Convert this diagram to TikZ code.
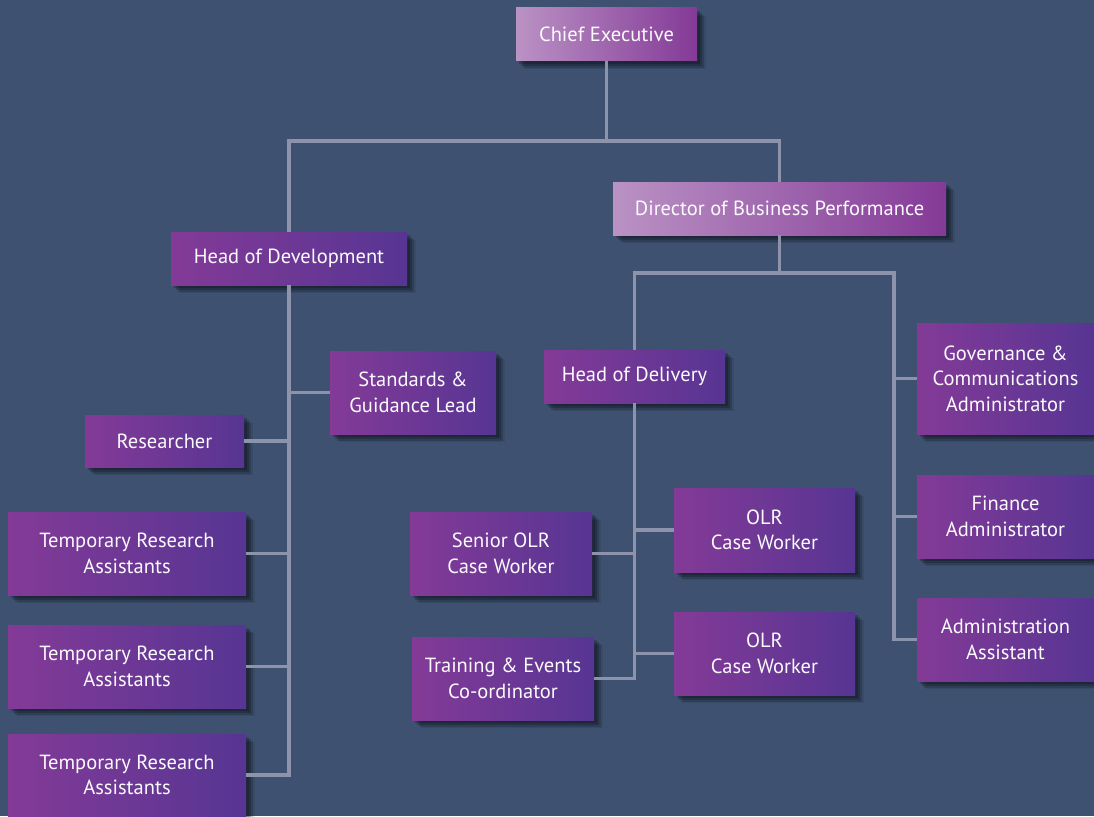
\documentclass[tikz,border=0pt]{standalone}
\usepackage{fontspec}
\setmainfont{PT Sans}
\usetikzlibrary{shadows}

\definecolor{bgblue}{RGB}{62,81,112}
\definecolor{linkgray}{RGB}{140,147,170}
\definecolor{lilac}{RGB}{186,146,196}
\definecolor{plum}{RGB}{132,58,151}
\definecolor{indigo}{RGB}{87,53,147}

\begin{document}
\begin{tikzpicture}[x=1pt,y=-1pt,
  post/.style={rectangle,inner sep=0pt,align=center,text=white!95!lilac,
    font=\fontsize{20.5}{25.5}\selectfont,
    left color=plum,right color=indigo,
    drop shadow={shadow xshift=3pt,shadow yshift=-3pt,opacity=.2,fill=black},
    drop shadow={shadow xshift=5pt,shadow yshift=-5pt,opacity=.2,fill=black},
    drop shadow={shadow xshift=7pt,shadow yshift=-7pt,opacity=.15,fill=black},
    drop shadow={shadow xshift=9pt,shadow yshift=-8pt,opacity=.08,fill=black}},
  toppost/.style={post,left color=lilac,right color=plum},
  link/.style={draw=linkgray,line width=3.2pt}]
  \fill[bgblue] (0,0) rectangle (1094,816);
  \useasboundingbox (0,0) rectangle (1094,816);
  % top level
  \node[toppost,minimum width=181,minimum height=53] (ce) at (606.5,34.5) {Chief Executive};
  \node[toppost,minimum width=333,minimum height=53] (dbp) at (779.5,208.5) {Director of Business Performance};
  \node[post,minimum width=236,minimum height=53] (hdev) at (289,258.5) {Head of Development};
  % development team
  \node[post,minimum width=166,minimum height=83] (sgl) at (413,392.5) {Standards \&\\Guidance Lead};
  \node[post,minimum width=159,minimum height=52] (res) at (164.5,441) {Researcher};
  \node[post,minimum width=238,minimum height=83] (tra1) at (127,553.5) {Temporary Research\\Assistants};
  \node[post,minimum width=238,minimum height=83] (tra2) at (127,666.5) {Temporary Research\\Assistants};
  \node[post,minimum width=238,minimum height=82] (tra3) at (127,775) {Temporary Research\\Assistants};
  % delivery team
  \node[post,minimum width=181,minimum height=53] (hdel) at (634.5,376.5) {Head of Delivery};
  \node[post,minimum width=182,minimum height=83] (sen) at (501,553.5) {Senior OLR\\Case Worker};
  \node[post,minimum width=182,minimum height=83] (tec) at (503,678.5) {Training \& Events\\Co-ordinator};
  \node[post,minimum width=181,minimum height=84] (olr1) at (764.5,530) {OLR\\Case Worker};
  \node[post,minimum width=181,minimum height=83] (olr2) at (764.5,653.5) {OLR\\Case Worker};
  % administration
  \node[post,minimum width=177,minimum height=111] (gov) at (1005.5,378.5) {Governance \&\\Communications\\Administrator};
  \node[post,minimum width=177,minimum height=83] (fin) at (1005.5,516.5) {Finance\\Administrator};
  \node[post,minimum width=177,minimum height=83] (aa) at (1005.5,639.5) {Administration\\Assistant};
  % connectors
  \coordinate (split) at (606.5,141);
  \coordinate (rspine) at (894,273);
  \draw[link] (ce.south) -- (split);
  \draw[link] (hdev.north) |- (split) -| (dbp.north);
  \draw[link] (dbp.south) -- (dbp.south |- rspine);
  \draw[link] (hdel.north) |- (rspine) -- (rspine |- aa.west) -- (aa.west);
  \draw[link] (gov.west) -- (gov.west -| rspine);
  \draw[link] (fin.west) -- (fin.west -| rspine);
  \draw[link] (hdev.south) -- (hdev.south |- tra3.east) -- (tra3.east);
  \foreach \n in {sgl,res,tra1,tra2}
    \draw[link] (\n) -- (\n -| hdev.south);
  \draw[link] (hdel.south) -- (hdel.south |- tec.east) -- (tec.east);
  \foreach \n in {sen,olr1,olr2}
    \draw[link] (\n) -- (\n -| hdel.south);
\end{tikzpicture}
\end{document}
